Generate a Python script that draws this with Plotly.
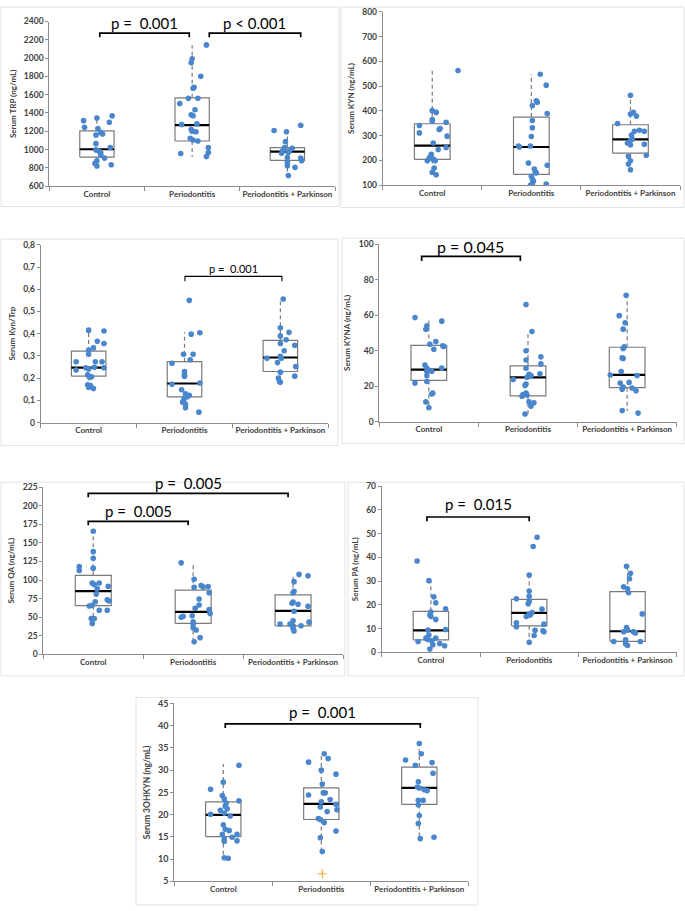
import plotly.graph_objects as go

W, H = 685, 911
CATEGORIES = ["Control", "Periodontitis", "Periodontitis + Parkinson"]

# ---------------- Serum TRP ----------------
TRP_CONTROL = [1316, 1345, 1368, 1298, 1244, 1230, 1187, 1170, 1158, 1064, 1021, 996, 985, 963, 938, 906, 877, 848, 820, 834]
TRP_CONTROL_JIT = [-0.14, 0, 0.16, 0.13, -0.13, 0.01, 0.04, 0.06, -0.01, -0.01, 0.14, -0.01, 0.02, 0.04, 0.04, 0.08, 0, -0.02, 0, 0.15]
TRP_PERIO = [2144, 1993, 1950, 1802, 1680, 1670, 1561, 1561, 1504, 1435, 1381, 1370, 1280, 1273, 1219, 1201, 1194, 1122, 1104, 1093, 1021, 967, 956, 924]
TRP_PERIO_JIT = [0.15, 0, -0.01, 0.09, 0.02, 0.01, -0.04, 0.06, -0.13, 0.03, -0.01, 0.01, 0.05, -0.11, -0.01, 0, 0.04, -0.02, 0.01, 0.06, 0.17, 0.17, -0.12, 0.15]
TRP_PARK = [1208, 1194, 1266, 1086, 1021, 1014, 985, 985, 967, 960, 913, 906, 877, 859, 823, 805, 715]
TRP_PARK_JIT = [-0.14, -0.01, 0.14, -0.02, -0.03, 0.05, -0.05, 0.02, 0.01, -0.06, 0, 0.14, 0.15, 0, 0, 0.08, 0.01]
TRP_STATS = [[820, 917, 1003, 1205, 1345], [920, 1093, 1266, 1565, 2144], [715, 881, 978, 1021, 1194]]

# ---------------- Serum KYN ----------------
KYN_CONTROL = [563, 401, 394, 365, 358, 354, 341, 329, 325, 311, 298, 270, 252, 244, 225, 212, 209, 205, 198, 198, 169, 152, 142]
KYN_CONTROL_JIT = [0.26, 0, 0.04, 0, 0, 0.14, -0.13, 0.08, 0.07, -0.13, 0.15, 0.01, 0.14, 0.06, -0.01, -0.02, -0.03, 0.01, 0.03, -0.05, 0.02, 0, 0.04]
KYN_PERIO = [548, 504, 441, 435, 422, 389, 361, 332, 296, 258, 258, 254, 189, 180, 165, 154, 149, 136, 125, 116, 105, 104, 99]
KYN_PERIO_JIT = [0.09, 0.15, 0.05, 0.06, 0.01, 0.16, 0.01, 0.01, 0, -0.01, -0.13, -0.12, -0.03, 0.16, 0.03, 0.04, 0.05, 0, 0.01, 0.02, 0.01, 0.15, -0.01]
KYN_PARK = [463, 394, 387, 379, 349, 322, 318, 318, 302, 286, 280, 270, 265, 262, 221, 216, 198, 185, 162]
KYN_PARK_JIT = [0, 0.03, 0, 0.06, -0.13, 0.09, 0.04, 0.14, 0.01, 0.02, 0, -0.03, 0.14, 0, 0.16, -0.02, 0, -0.02, 0]
KYN_STATS = [[142, 204, 260, 348, 563], [99, 143, 254, 375, 548], [162, 229, 285, 344, 463]]

# ---------------- Serum Kyn/Trp ----------------
RATIO_CONTROL = [0.416, 0.412, 0.366, 0.356, 0.336, 0.326, 0.307, 0.274, 0.274, 0.274, 0.237, 0.247, 0.249, 0.247, 0.241, 0.215, 0.204, 0.206, 0.170, 0.167, 0.159, 0.153]
RATIO_CONTROL_JIT = [0, 0.16, 0.09, 0.16, 0.05, 0, 0, -0.13, 0.07, 0.14, -0.13, -0.03, 0.06, 0.16, 0, -0.01, 0.01, 0.03, -0.01, 0.02, 0, 0.05]
RATIO_PERIO = [0.550, 0.404, 0.398, 0.307, 0.307, 0.283, 0.267, 0.230, 0.215, 0.209, 0.172, 0.178, 0.148, 0.130, 0.123, 0.116, 0.111, 0.099, 0.092, 0.083, 0.067, 0.047]
RATIO_PERIO_JIT = [0.05, 0.16, 0.07, -0.01, 0.09, 0.06, -0.13, 0, 0, 0, -0.13, 0.16, -0.03, 0.01, 0.05, 0.03, 0, -0.01, -0.02, 0.01, 0.01, 0.15]
RATIO_PARK = [0.556, 0.427, 0.406, 0.390, 0.373, 0.348, 0.356, 0.323, 0.289, 0.289, 0.298, 0.252, 0.270, 0.227, 0.209, 0.200, 0.185, 0.181]
RATIO_PARK_JIT = [0.03, 0, 0.09, 0, 0.06, 0.15, 0, 0.04, -0.14, 0.01, 0, 0.16, -0.03, 0, 0.15, -0.02, -0.01, 0]
RATIO_STATS = [[0.153, 0.209, 0.247, 0.322, 0.419], [0.052, 0.116, 0.176, 0.274, 0.407], [0.181, 0.230, 0.293, 0.370, 0.556]]
RATIO_TICKVALS = [0, 0.1, 0.2, 0.3, 0.4, 0.5, 0.6, 0.7, 0.8]
RATIO_TICKTEXT = ["0", "0,1", "0,2", "0,3", "0,4", "0,5", "0,6", "0,7", "0,8"]

# ---------------- Serum KYNA ----------------
KYNA_CONTROL = [58.6, 56.6, 54, 52, 45.1, 43.6, 42.7, 42.3, 40.8, 31.9, 30.1, 30.2, 28.9, 28.4, 28.2, 28.8, 25.8, 22.6, 21.7, 16.1, 15.6, 11.1, 7.8]
KYNA_CONTROL_JIT = [-0.14, 0.13, -0.02, -0.03, 0.07, 0.01, 0.14, 0.15, 0.05, -0.04, -0.02, 0.13, -0.01, 0.03, -0.02, 0.02, -0.02, -0.02, -0.14, 0.04, 0.03, -0.03, 0]
KYNA_PERIO = [66, 50.8, 39.9, 34.7, 36.5, 32.5, 30.1, 26.7, 26, 25, 26.9, 23.7, 21.2, 20.4, 16.1, 15.2, 15, 14.3, 11.1, 8.7, 10.6, 4.3]
KYNA_PERIO_JIT = [-0.02, 0.04, -0.02, -0.02, 0.13, 0.13, -0.02, 0.01, 0.03, -0.01, 0.12, -0.15, -0.02, -0.03, -0.02, -0.05, -0.01, -0.06, 0.01, 0.03, 0.06, -0.03]
KYNA_PARK = [71.2, 59.7, 55.7, 52.1, 42.1, 41.2, 35.6, 35.9, 28.2, 26.3, 26, 22.1, 21.7, 19.5, 18.9, 18.2, 17.4, 6.3, 4.8]
KYNA_PARK_JIT = [-0.01, -0.08, -0.02, -0.04, -0.03, -0.04, -0.04, -0.05, -0.06, -0.17, 0.10, 0.02, -0.07, -0.04, 0.05, -0.05, 0.09, -0.05, 0.11]
KYNA_STATS = [[7.8, 23.2, 29.3, 42.9, 58.6], [4.3, 14.5, 24.9, 31.4, 51], [6.0, 19.1, 26.3, 41.9, 71.2]]

# ---------------- Serum QA ----------------
QA_CONTROL = [165.9, 138.3, 129.4, 116, 118.3, 112.9, 96, 96, 93.8, 91.6, 88, 81, 70.7, 73.4, 71.6, 64.9, 65.8, 59.2, 59.2, 48, 48, 41.4]
QA_CONTROL_JIT = [0, 0, 0, 0, -0.14, -0.14, -0.01, 0.06, 0.01, 0.15, 0.04, 0.03, 0.02, 0.14, 0.16, -0.04, -0.01, 0.06, 0.14, -0.02, 0.01, -0.01]
QA_PERIO = [123.2, 101, 92.5, 90.7, 91.2, 90.3, 82.7, 74.3, 66.3, 61.8, 60, 54.7, 51.1, 51.6, 49.8, 43.6, 40, 35.6, 32.5, 22.2, 16.5]
QA_PERIO_JIT = [-0.12, 0.01, 0.08, 0.1, 0.15, 0.01, 0.16, 0.06, 0.06, 0.02, 0.16, 0.17, -0.1, -0.01, -0.12, 0, 0, 0, 0.03, 0.07, 0.01]
QA_PARK = [107.6, 105.8, 97.8, 84.9, 82.7, 68.5, 67.2, 70.3, 64.5, 57.8, 45, 43.1, 40.5, 40.5, 38.2, 38.2, 34.7, 31.1]
QA_PARK_JIT = [0.06, 0.15, 0.01, 0.01, 0, -0.01, 0.05, 0, 0.15, 0.01, 0, 0.16, -0.13, -0.03, 0, 0.08, 0, 0.01]
QA_STATS = [[41.4, 65.4, 85, 106.3, 165.9], [16, 41.4, 56.9, 86.3, 122], [31, 38.2, 58.3, 80, 108]]

# ---------------- Serum PA ----------------
PA_CONTROL = [38.5, 30.2, 23.4, 20.9, 18.4, 17, 15.7, 15.1, 13.9, 9.4, 9.6, 4.6, 4.9, 5.4, 7.3, 6, 6, 3.7, 3.2, 2.8, 1.4]
PA_CONTROL_JIT = [-0.14, -0.02, 0.03, 0.05, 0.15, 0, -0.01, 0, 0.05, -0.03, 0.15, -0.13, 0.01, -0.03, -0.02, -0.05, 0.05, 0.09, 0.02, 0.14, -0.01]
PA_PERIO = [48.5, 44.6, 32.6, 25.8, 23.6, 22.6, 21.5, 20.5, 18.2, 16.8, 16.1, 15.7, 15.1, 12.5, 11.9, 10.8, 9.3, 9.1, 8.7, 7.1, 4.3]
PA_PERIO_JIT = [0.08, 0.04, 0, 0, 0, -0.13, 0, -0.01, 0.13, 0.03, 0, 0.01, -0.03, -0.13, 0.15, -0.13, 0.06, 0.14, 0.15, 0.05, 0]
PA_PARK = [36.3, 33.3, 31, 27.6, 26.8, 25.1, 16.2, 10.5, 9.4, 8.7, 8.7, 8.2, 4.6, 5.3, 3.6, 2.9, 4.6]
PA_PARK_JIT = [-0.01, 0.03, 0.02, -0.04, 0, 0.01, 0.15, -0.01, 0, -0.04, 0.06, 0.08, -0.14, -0.02, -0.02, 0, 0.13]
PA_STATS = [[1.2, 5.3, 9.3, 17.3, 30.2], [4.2, 11.2, 16.6, 22.3, 32.7], [4.6, 4.6, 8.9, 25.6, 36.5]]

# ---------------- Serum 3OHKYN ----------------
OHK_CONTROL = [31.1, 25.7, 27.3, 24.3, 23.5, 23.1, 22.6, 21.9, 21.3, 21, 20.1, 20.3, 19.7, 17.7, 16.7, 16.4, 15.6, 15.6, 14.9, 14.1, 14.5, 14, 10.3, 10.2]
OHK_CONTROL_JIT = [0.16, -0.13, 0, -0.01, 0.01, 0.16, 0.03, 0.02, 0.04, -0.03, -0.13, 0.01, 0.07, 0, 0.02, 0.06, -0.01, 0.14, 0.09, 0.14, 0.01, 0.01, 0.01, 0.05]
OHK_PERIO = [33.7, 31.8, 32.6, 30, 29.1, 26.9, 24.4, 24.9, 24.9, 23.4, 22.9, 22.3, 21.7, 20.7, 21.1, 19.1, 18.9, 18.2, 16.3, 14.8, 11.7]
OHK_PERIO_JIT = [0.03, -0.13, 0.07, 0, 0.15, 0.01, -0.13, 0.02, 0.04, 0.09, 0, 0.15, -0.01, 0.06, 0.16, -0.03, -0.01, 0.03, 0.15, -0.01, 0.01]
OHK_PARK = [36, 33.7, 32.3, 31.7, 31.1, 29.3, 27.4, 26.2, 26, 25.6, 25.4, 23.2, 23.2, 22.2, 19.8, 18, 14.6, 14.9]
OHK_PARK_JIT = [0, 0.02, -0.14, 0.13, -0.04, 0.14, -0.01, -0.02, 0, 0.05, 0.08, -0.01, 0.04, -0.01, 0, -0.01, 0.01, 0.15]
OHK_STATS = [[10.2, 15.07, 19.96, 22.85, 31.4], [11.7, 18.9, 22.4, 26.0, 33.7], [14.7, 22.3, 26.0, 30.7, 36.1]]
OHK_OUTLIER_GROUP = [1]
OHK_OUTLIER_VALUE = [6.7]
OHK_OUTLIER_JIT = [0.01]

POINT_COLOR = "#4a86cc"
BOX_COLOR = "#7a7a7a"
AXIS_COLOR = "#8c8c8c"
TEXT_COLOR = "#404040"
FONT = "Lato"
HALF_BOX = 0.18

fig = go.Figure()
layout_axes = {}
annotations = []
shapes = []


def px_dom_x(a, b):
    return [a / W, b / W]


def px_dom_y(top, bottom):
    return [1 - bottom / H, 1 - top / H]


def add_panel(n, groups, jitters, stats, ytitle, yrange, dtick, dom_x, dom_y,
              brackets, tickvals=None, ticktext=None, title_size=8, tick_size=8.5,
              outliers=None):
    suffix = "" if n == 1 else str(n)
    xa, ya = f"x{suffix}", f"y{suffix}"
    # whiskers, boxes, medians
    for k, (lo, q1, med, q3, hi) in enumerate(stats):
        c = k + 0.5
        fig.add_trace(go.Scatter(x=[c, c, None, c, c], y=[q3, hi, None, q1, lo], mode="lines",
                                 line=dict(color=BOX_COLOR, width=1.2, dash="4px,3px"),
                                 xaxis=xa, yaxis=ya, showlegend=False, hoverinfo="skip"))
        fig.add_trace(go.Scatter(x=[c - HALF_BOX, c + HALF_BOX, c + HALF_BOX, c - HALF_BOX, c - HALF_BOX],
                                 y=[q1, q1, q3, q3, q1], mode="lines", fill="toself",
                                 fillcolor="white", line=dict(color=BOX_COLOR, width=1.2),
                                 xaxis=xa, yaxis=ya, showlegend=False, hoverinfo="skip"))
        fig.add_trace(go.Scatter(x=[c - HALF_BOX, c + HALF_BOX], y=[med, med], mode="lines",
                                 line=dict(color="black", width=2.2),
                                 xaxis=xa, yaxis=ya, showlegend=False, hoverinfo="skip"))
    # points
    for k, (vals, jit) in enumerate(zip(groups, jitters)):
        fig.add_trace(go.Scatter(x=[k + 0.5 + j for j in jit], y=vals, mode="markers",
                                 marker=dict(color=POINT_COLOR, size=5.6),
                                 xaxis=xa, yaxis=ya, showlegend=False))
    if outliers:
        g, v, j = outliers
        fig.add_trace(go.Scatter(x=[gi + 0.5 + ji for gi, ji in zip(g, j)], y=v, mode="markers",
                                 marker=dict(symbol="cross-thin", size=6, line=dict(color="#f5a623", width=1.1)),
                                 xaxis=xa, yaxis=ya, showlegend=False))
    # significance brackets
    span = yrange[1] - yrange[0]
    for (x0, x1, ytop, yleg, ytext, label, size, lw) in brackets:
        fig.add_trace(go.Scatter(x=[x0, x0, x1, x1], y=[yleg, ytop, ytop, yleg], mode="lines",
                                 line=dict(color="black", width=lw), cliponaxis=False,
                                 xaxis=xa, yaxis=ya, showlegend=False, hoverinfo="skip"))
        annotations.append(dict(x=(x0 + x1) / 2, y=(ytext - yrange[0]) / span,
                                xref=xa, yref=f"{ya} domain", text=label,
                                showarrow=False, yanchor="middle",
                                font=dict(family=FONT, size=size, color="black")))
    axis_x = dict(domain=dom_x, anchor=ya, range=[0, 3], showline=True, linecolor=AXIS_COLOR,
                  linewidth=1, showgrid=False, zeroline=False, tickmode="array",
                  tickvals=[0.5, 1.5, 2.5], ticktext=CATEGORIES, ticks="",
                  tickfont=dict(family=FONT, size=8, color=TEXT_COLOR, weight="bold"),
                  minor=dict(tickmode="array", tickvals=[0, 1, 2, 3], ticks="outside",
                             ticklen=4, tickcolor=AXIS_COLOR, showgrid=False),
                  fixedrange=True)
    axis_y = dict(domain=dom_y, anchor=xa, range=yrange, showline=True, linecolor=AXIS_COLOR,
                  linewidth=1, showgrid=False, zeroline=False, ticks="outside", ticklen=3,
                  tickcolor=AXIS_COLOR,
                  tickfont=dict(family=FONT, size=tick_size, color=TEXT_COLOR, weight="bold"),
                  title=dict(text=ytitle, standoff=6,
                             font=dict(family=FONT, size=title_size, color=TEXT_COLOR, weight="bold")),
                  fixedrange=True)
    if tickvals is not None:
        axis_y.update(tickmode="array", tickvals=tickvals, ticktext=ticktext)
    else:
        axis_y.update(dtick=dtick, tick0=yrange[0])
    layout_axes[f"xaxis{suffix}"] = axis_x
    layout_axes[f"yaxis{suffix}"] = axis_y


add_panel(1, [TRP_CONTROL, TRP_PERIO, TRP_PARK], [TRP_CONTROL_JIT, TRP_PERIO_JIT, TRP_PARK_JIT],
          TRP_STATS, "Serum TRP (ng/mL)", [600, 2400], 200,
          px_dom_x(49.3, 335), px_dom_y(15.7, 182.3),
          [(0.53, 1.47, 2274, 2227, 2382, "p =\u00a0 0.001", 15, 1.7),
           (1.68, 2.64, 2274, 2227, 2382, "p < 0.001", 15, 1.7)])

add_panel(2, [KYN_CONTROL, KYN_PERIO, KYN_PARK], [KYN_CONTROL_JIT, KYN_PERIO_JIT, KYN_PARK_JIT],
          KYN_STATS, "Serum KYN (ng/mL)", [100, 800], 100,
          px_dom_x(382.7, 680), px_dom_y(6, 181.3), [])

add_panel(3, [RATIO_CONTROL, RATIO_PERIO, RATIO_PARK], [RATIO_CONTROL_JIT, RATIO_PERIO_JIT, RATIO_PARK_JIT],
          RATIO_STATS, "Serum Kyn/Trp", [0, 0.8], None,
          px_dom_x(40.7, 328.3), px_dom_y(241.7, 421.7),
          [(1.505, 2.516, 0.658, 0.636, 0.695, "p =\u00a0 0.001", 11, 1.1)],
          tickvals=RATIO_TICKVALS, ticktext=RATIO_TICKTEXT)

add_panel(4, [KYNA_CONTROL, KYNA_PERIO, KYNA_PARK], [KYNA_CONTROL_JIT, KYNA_PERIO_JIT, KYNA_PARK_JIT],
          KYNA_STATS, "Serum KYNA (ng/mL)", [0, 100], 20,
          px_dom_x(379.3, 676.7), px_dom_y(241, 420.7),
          [(0.427, 1.423, 93.1, 90.5, 98.7, "p = 0.045", 16, 1.7)])

add_panel(5, [QA_CONTROL, QA_PERIO, QA_PARK], [QA_CONTROL_JIT, QA_PERIO_JIT, QA_PARK_JIT],
          QA_STATS, "Serum QA (ng/mL)", [0, 225], 25,
          px_dom_x(43.3, 343), px_dom_y(487.3, 656),
          [(0.45, 2.45, 217, 211.7, 230.3, "p =\u00a0 0.005", 15, 1.7),
           (0.45, 1.45, 179.2, 173.9, 192.5, "p =\u00a0 0.005", 15, 1.7)])

add_panel(6, [PA_CONTROL, PA_PERIO, PA_PARK], [PA_CONTROL_JIT, PA_PERIO_JIT, PA_PARK_JIT],
          PA_STATS, "Serum PA (ng/mL)", [0, 70], 10,
          px_dom_x(381.7, 676.7), px_dom_y(486, 654.3),
          [(0.46, 1.50, 57, 55.2, 62.5, "p =\u00a0 0.015", 15, 1.7)])

add_panel(7, [OHK_CONTROL, OHK_PERIO, OHK_PARK], [OHK_CONTROL_JIT, OHK_PERIO_JIT, OHK_PARK_JIT],
          OHK_STATS, "Serum 3OHKYN (ng/mL)", [5, 45], 5,
          px_dom_x(174.3, 468.3), px_dom_y(706, 886),
          [(0.52, 2.51, 40.4, 39.5, 43, "p =\u00a0 0.001", 15, 1.7)],
          title_size=8.5, tick_size=9,
          outliers=(OHK_OUTLIER_GROUP, OHK_OUTLIER_VALUE, OHK_OUTLIER_JIT))

# light panel frames (pixel boxes of each sub-figure)
FRAMES = [(1, 1, 339, 203), (341, 1, 684, 204), (1, 236, 338, 445), (342, 235, 684, 443),
          (1, 482, 345, 678), (348, 482, 684, 678), (136, 700, 478, 910)]
for (x0, y0, x1, y1) in FRAMES:
    shapes.append(dict(type="rect", xref="paper", yref="paper", x0=x0 / W, x1=x1 / W,
                       y0=1 - y1 / H, y1=1 - y0 / H, line=dict(color="#e3e3e3", width=1),
                       layer="below"))

fig.update_layout(width=W, height=H, margin=dict(l=0, r=0, t=0, b=0),
                  paper_bgcolor="white", plot_bgcolor="white", showlegend=False,
                  font=dict(family=FONT, color=TEXT_COLOR),
                  annotations=annotations, shapes=shapes, **layout_axes)

fig.write_html("out.html")
